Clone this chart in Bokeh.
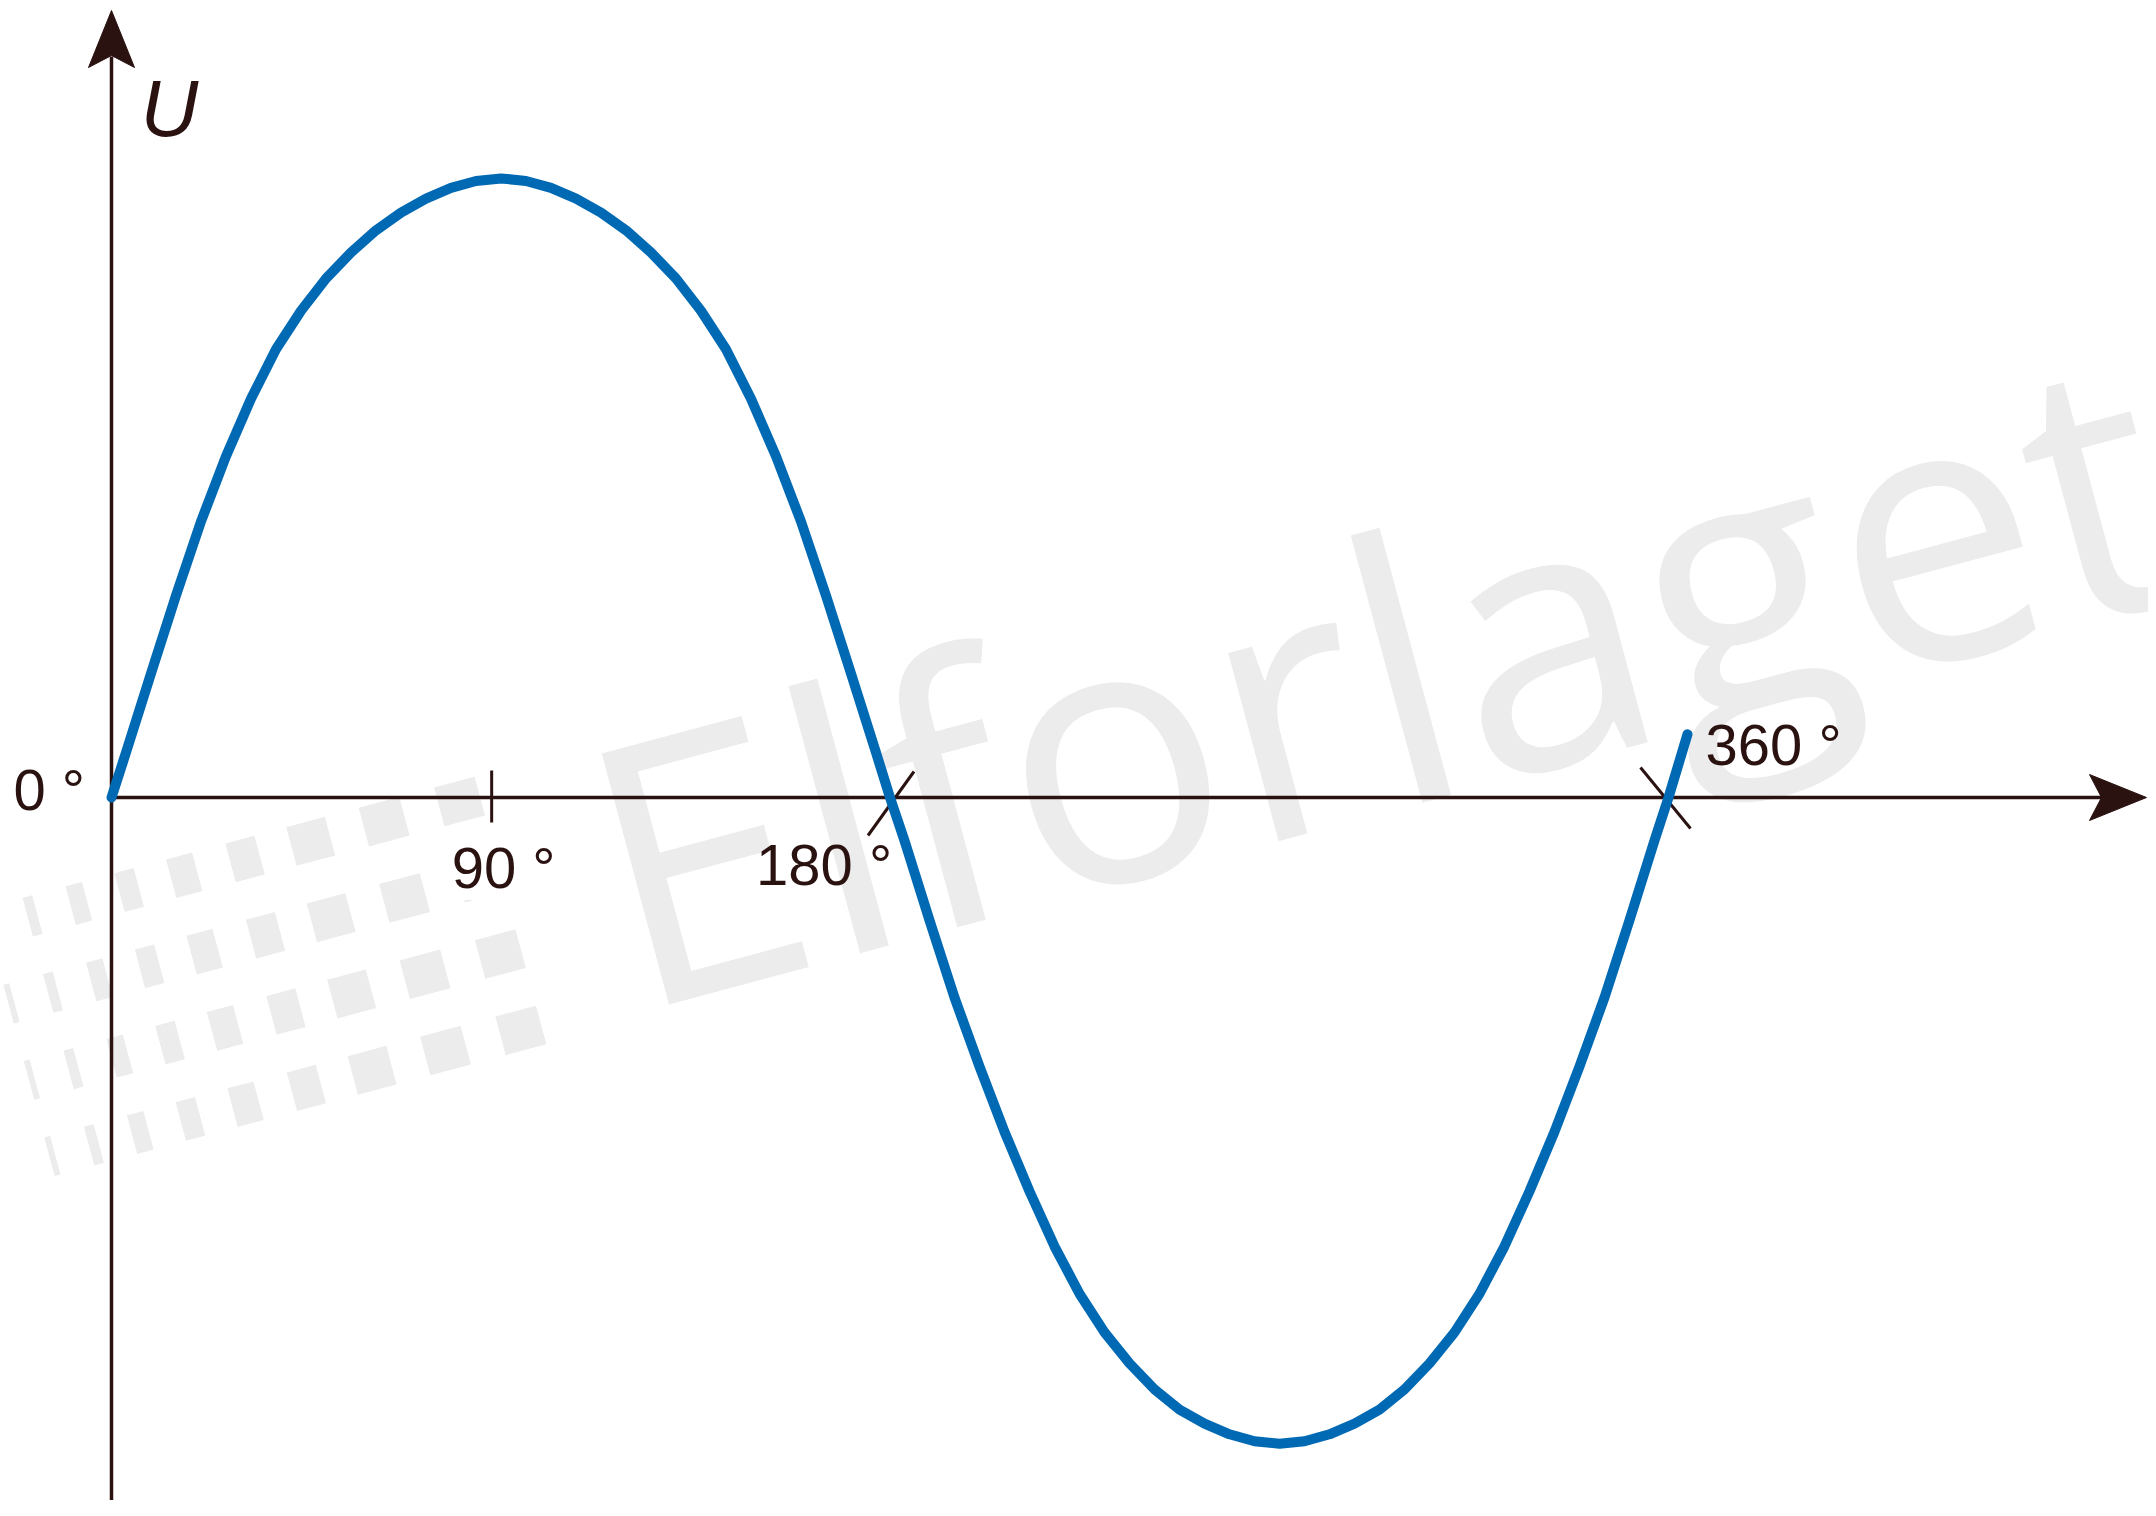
from math import cos, sin, radians
from bokeh.plotting import figure
from bokeh.models import Range1d, Label
from bokeh.embed import file_html
from bokeh.resources import INLINE

# ---------------- data ----------------
# phase angle in degrees and voltage U (peak ~ 1)
angle_deg = [0.00, 3.35, 9.13, 14.91, 20.69, 26.47, 32.25, 38.03, 43.82, 49.60,
             55.38, 61.16, 66.94, 72.72, 78.50, 84.28, 90.06, 95.84, 101.62,
             107.40, 113.18, 118.96, 124.74, 130.52, 136.30, 142.08, 147.86,
             153.64, 159.42, 165.20, 170.98, 176.76, 180.00, 183.35, 189.13,
             194.91, 200.69, 206.47, 212.25, 218.03, 223.82, 229.60, 235.38,
             241.16, 246.94, 252.72, 258.50, 264.28, 270.06, 275.84, 281.62,
             287.40, 293.18, 298.96, 304.74, 310.52, 316.30, 322.08, 327.86,
             333.64, 339.42, 345.20, 350.98, 356.76, 360.00, 364.39]
voltage = [0.000, 0.071, 0.196, 0.319, 0.436, 0.539, 0.630, 0.708, 0.769,
           0.820, 0.861, 0.896, 0.924, 0.946, 0.963, 0.974, 0.978, 0.974,
           0.963, 0.946, 0.924, 0.896, 0.861, 0.820, 0.769, 0.708, 0.630,
           0.539, 0.436, 0.319, 0.196, 0.071, 0.000, -0.068, -0.194, -0.316,
           -0.425, -0.528, -0.622, -0.709, -0.784, -0.845, -0.894, -0.935,
           -0.967, -0.989, -1.006, -1.017, -1.021, -1.017, -1.006, -0.989,
           -0.967, -0.935, -0.894, -0.845, -0.784, -0.709, -0.622, -0.528,
           -0.425, -0.316, -0.194, -0.068, 0.000, 0.100]
tick_positions = [0, 87.9, 180, 360]
tick_labels = ["0 °", "90 °", "180 °", "360 °"]
label_boxed = [True, True, False, False]
axis_label = "U"
watermark_text = "Elforlaget"

# ---------------- layout (reference pixels) ----------------
W, H = 2148, 1500
ORIGIN_X, ORIGIN_Y = 111.0, 797.0
PX_PER_DEG = 4.325
PX_PER_U = 633.0
BASE_SHIFT = 0.36   # em, compensates the label baseline placement


def X(px):
    return (px - ORIGIN_X) / PX_PER_DEG


def Y(py):
    return (ORIGIN_Y - py) / PX_PER_U


def tick_px(deg):
    return ORIGIN_X + deg * PX_PER_DEG


def anchor(bx, by, size, ang_deg=0.0, extra=0.0):
    a = radians(ang_deg)
    s = BASE_SHIFT * size + extra
    return X(bx - s * sin(a)), Y(by - s * cos(a))


AXIS = "#2a1210"
BLUE = "#0069b4"
WM = "#ececec"

p = figure(width=W, height=H, output_backend="svg", toolbar_location=None,
           x_range=Range1d(X(0), X(W)), y_range=Range1d(Y(H), Y(0)),
           x_axis_type=None, y_axis_type=None, min_border=0)
p.outline_line_color = None
p.grid.grid_line_color = None
p.background_fill_color = "white"
p.border_fill_color = "white"

# ---------------- watermark ----------------
ROT = radians(15)
ca, sa = cos(ROT), sin(ROT)
sq_cols_u = [0, -78, -154, -222, -285, -342, -394, -442, -485]
sq_cols_w = [42, 42, 40, 30, 27, 20, 17, 10, 6]
sq_rows_v = [0, 79, 158, 237]
SQ_H = 40
SQ_O = (459, 801)
sx, sy, sw = [], [], []
for rv in sq_rows_v:
    for cu, w in zip(sq_cols_u, sq_cols_w):
        cx = SQ_O[0] + cu * ca + rv * sa
        cy = SQ_O[1] - cu * sa + rv * ca
        sx.append(X(cx))
        sy.append(Y(cy))
        sw.append(w)
p.rect(x=sx, y=sy, width=sw, height=SQ_H, width_units="screen",
       height_units="screen", angle=15, angle_units="deg",
       fill_color=WM, line_color=None, level="image")

WM_SIZE = 364
wx, wy = anchor(636, 1020, WM_SIZE, 15, extra=17)
p.add_layout(Label(x=wx, y=wy, text=watermark_text, angle=15,
                   angle_units="deg", text_font="Open Sans",
                   text_font_size=f"{WM_SIZE}px", text_color=WM,
                   text_baseline="alphabetic", text_align="left",
                   level="image"))

# ---------------- axes ----------------
p.segment(x0=[X(ORIGIN_X), X(ORIGIN_X)], y0=[Y(1520), Y(ORIGIN_Y)],
          x1=[X(ORIGIN_X), X(2105)], y1=[Y(56), Y(ORIGIN_Y)],
          line_color=AXIS, line_width=3.5)
ya = [(ORIGIN_X, 10), (ORIGIN_X + 23, 67), (ORIGIN_X, 55), (ORIGIN_X - 23, 67)]
xa = [(2146, ORIGIN_Y), (2089, ORIGIN_Y + 23), (2101, ORIGIN_Y), (2089, ORIGIN_Y - 23)]
p.patches(xs=[[X(a) for a, b in ya], [X(a) for a, b in xa]],
          ys=[[Y(b) for a, b in ya], [Y(b) for a, b in xa]],
          fill_color=AXIS, line_color=AXIS, line_width=1)

t90 = tick_px(tick_positions[1])
t180 = tick_px(tick_positions[2])
t360 = tick_px(tick_positions[3])
p.segment(x0=[X(t90), X(t180 - 22), X(t360 - 28)],
          y0=[Y(770), Y(ORIGIN_Y + 38), Y(ORIGIN_Y - 30)],
          x1=[X(t90), X(t180 + 24), X(t360 + 22)],
          y1=[Y(822), Y(ORIGIN_Y - 26), Y(ORIGIN_Y + 31)],
          line_color=AXIS, line_width=3)

# ---------------- curve ----------------
p.line(angle_deg, voltage, line_color=BLUE, line_width=10,
       line_cap="round", line_join="round")

# ---------------- labels ----------------
LBL_SIZE = 58
label_offsets = [(-98, 13), (-40, 91), (-134, 88), (37, -32)]
for pos, txt, boxed, (dx, dy) in zip(tick_positions, tick_labels,
                                      label_boxed, label_offsets):
    lx, ly = anchor(tick_px(pos) + dx, ORIGIN_Y + dy, LBL_SIZE)
    p.add_layout(Label(x=lx, y=ly, text=txt,
                       text_font="Liberation Sans",
                       text_font_size=f"{LBL_SIZE}px",
                       text_color=AXIS, text_baseline="alphabetic",
                       text_align="left",
                       background_fill_color="white" if boxed else None))

ux, uy = anchor(140, 137, 80)
p.add_layout(Label(x=ux, y=uy, text=axis_label,
                   text_font="Liberation Sans", text_font_size="80px",
                   text_font_style="italic", text_color=AXIS,
                   text_baseline="alphabetic", text_align="left"))

open("out.html", "w").write(file_html(p, INLINE))
